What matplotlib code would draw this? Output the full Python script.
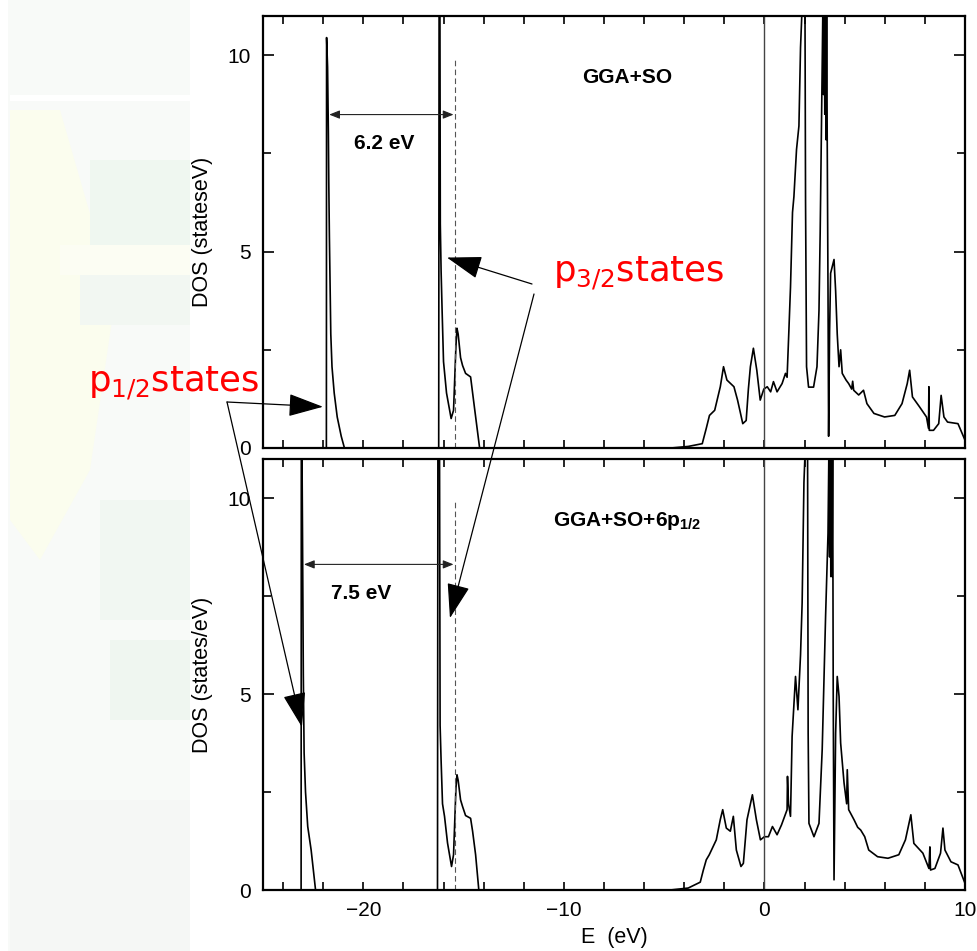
import numpy as np
import matplotlib
matplotlib.use("Agg")
import matplotlib.pyplot as plt
from matplotlib.ticker import MultipleLocator
from matplotlib.patches import Rectangle, Polygon

plt.rcParams['font.family'] = ['Liberation Sans', 'DejaVu Sans']
plt.rcParams['mathtext.fontset'] = 'custom'
plt.rcParams['mathtext.rm'] = 'DejaVu Sans'
plt.rcParams['mathtext.bf'] = 'Liberation Sans:bold'

# DOS, GGA+SO (energy in eV, states/eV)
e_top = [-25, -21.84, -21.83, -21.78, -21.74, -21.72, -21.69, -21.62, -21.56, -21.45, -21.3, -21.1, -20.94,
         -16.24, -16.22, -16.18, -16.16, -16.12, -16.07, -16.0, -15.85, -15.62, -15.5, -15.38, -15.33, -15.27,
         -15.15, -15.05, -14.9, -14.65, -14.45, -14.2,
         -4.66, -3.8, -3.1, -2.9, -2.74, -2.48, -2.2, -2.04, -1.87, -1.52, -1.34, -1.2, -1.08, -0.91, -0.8, -0.7,
         -0.55, -0.38, -0.21, -0.03, 0.14, 0.31, 0.45, 0.63, 0.88, 1.05, 1.13, 1.22, 1.3, 1.4, 1.47, 1.6, 1.72,
         1.8, 1.9, 2.02, 2.05, 2.1, 2.2, 2.45, 2.62, 2.72, 2.78, 2.87, 2.92, 2.95, 2.98, 3.01, 3.04, 3.07, 3.1,
         3.13, 3.17, 3.2, 3.25, 3.3, 3.47, 3.55, 3.63, 3.72, 3.8, 3.88, 4.07, 4.2, 4.35, 4.4, 4.45, 4.7, 4.94,
         5.11, 5.46, 5.99, 6.5, 6.86, 7.12, 7.24, 7.38, 7.73, 8.08, 8.18, 8.2, 8.22, 8.43, 8.69, 8.81, 8.95,
         9.13, 9.65, 10]
dos_top = [0, 0, 10.45, 9.7, 8.0, 6.75, 5.4, 2.9, 2.07, 1.4, 0.79, 0.3, 0,
           0, 11.5, 11.5, 5.7, 4.5, 3.5, 2.2, 1.4, 0.75, 0.96, 2.6, 3.05, 2.9,
           2.3, 2.1, 1.9, 1.81, 1.0, 0,
           0, 0.04, 0.11, 0.5, 0.83, 0.96, 1.56, 2.07, 1.73, 1.56, 1.22, 0.9, 0.62, 0.7, 1.5, 2.07,
           2.54, 1.98, 1.22, 1.5, 1.56, 1.43, 1.69, 1.43, 1.64, 1.9, 1.8, 3.0, 4.1, 6.0, 6.4, 7.6, 8.2,
           10.2, 11.5, 11.5, 6.3, 2.07, 1.55, 1.55, 2.07, 3.5, 5.5, 9.3, 11.5, 9.0, 11.5, 8.5, 11.5, 7.85, 11.5,
           7.9, 4.0, 0.3, 3.0, 4.45, 4.8, 4.0, 2.9, 2.07, 2.5, 1.9, 1.73, 1.64, 1.5, 1.7, 1.47, 1.35, 1.47,
           1.13, 0.88, 0.79, 0.83, 1.13, 1.64, 1.98, 1.3, 1.05, 0.79, 0.5, 1.56, 0.45, 0.45, 0.62, 1.34, 0.79,
           0.66, 0.62, 0.2]

# DOS, GGA+SO+6p1/2
e_bot = [-25, -23.1, -23.09, -23.06, -23.03, -22.99, -22.95, -22.88, -22.77, -22.6, -22.38,
         -16.3, -16.28, -16.2, -16.17, -16.12, -16.05, -15.95, -15.8, -15.6, -15.5, -15.38, -15.33, -15.27,
         -15.15, -15.05, -14.9, -14.65, -14.55, -14.4, -14.24,
         -4.7, -3.8, -3.2, -3.05, -2.9, -2.75, -2.4, -2.2, -2.08, -1.9, -1.7, -1.55, -1.4, -1.17, -1.05, -0.87,
         -0.6, -0.4, -0.2, 0.0, 0.2, 0.4, 0.63, 0.85, 1.13, 1.15, 1.2, 1.3, 1.38, 1.55, 1.67, 1.8, 1.88, 1.97,
         2.05, 2.15, 2.18, 2.22, 2.47, 2.72, 2.88, 3.05, 3.17, 3.22, 3.25, 3.28, 3.31, 3.34, 3.37, 3.4, 3.43,
         3.47, 3.55, 3.63, 3.72, 3.8, 3.97, 4.1, 4.13, 4.2, 4.47, 4.65, 4.8, 5.0, 5.2, 5.64, 6.16, 6.7, 7.03,
         7.3, 7.45, 7.9, 8.2, 8.25, 8.28, 8.5, 8.78, 8.9, 9.0, 9.3, 9.65, 10]
dos_bot = [0, 0, 11.5, 11.5, 9.1, 5.5, 3.5, 2.5, 1.62, 1.02, 0,
           0, 11.5, 11.5, 4.2, 3.3, 2.2, 1.88, 1.2, 0.6, 0.9, 2.6, 2.94, 2.8,
           2.3, 2.13, 1.9, 1.83, 1.5, 0.9, 0,
           0, 0.05, 0.2, 0.5, 0.77, 0.9, 1.28, 1.8, 2.05, 1.58, 1.5, 1.88, 1.02, 0.6, 0.68, 1.79,
           2.43, 1.79, 1.28, 1.36, 1.36, 1.62, 1.41, 1.66, 2.05, 2.9, 2.2, 1.88, 3.92, 5.45, 4.6, 6.0, 7.33, 10.4,
           11.5, 11.5, 4.0, 1.7, 1.36, 1.7, 3.58, 7.0, 9.1, 11.5, 8.5, 11.5, 8.0, 11.5, 8.0, 11.5, 5.0,
           0.26, 4.0, 5.45, 4.94, 3.75, 2.73, 2.2, 3.07, 2.05, 1.79, 1.6, 1.53, 1.36, 1.02, 0.85, 0.81, 0.9, 1.28,
           1.92, 1.19, 0.94, 0.55, 1.1, 0.51, 0.55, 0.94, 1.58, 1.02, 0.72, 0.64, 0.17]

p32_peak = -15.45
gaps = [6.2, 7.5]
gap_left = [-21.7, -22.96]
gap_y = [8.49, 8.31]
titles = ['GGA+SO', r'GGA+SO+6p$_{\mathbf{1/2}}$']
ylabels = ['DOS (stateseV)', 'DOS (states/eV)']

W, H = 978, 951
fig = plt.figure(figsize=(W / 100, H / 100), dpi=100)

# faded watermark strip at the left
bg = fig.add_axes([0, 0, 1, 1], zorder=-5)
bg.set_xlim(0, W)
bg.set_ylim(H, 0)
bg.axis('off')
bg.add_patch(Rectangle((8, 0), 182, H, color='#f8faf8', lw=0))
bg.add_patch(Polygon([(10, 110), (60, 110), (115, 300), (90, 470), (40, 560), (10, 520)], color='#fbfdee', lw=0))
bg.add_patch(Rectangle((90, 160), 100, 85, color='#eff7f0', lw=0))
bg.add_patch(Rectangle((60, 245), 130, 30, color='#fcfdf3', lw=0))
bg.add_patch(Rectangle((80, 275), 110, 50, color='#f2f7f2', lw=0))
bg.add_patch(Rectangle((10, 95), 180, 6, color='#ffffff', lw=0))
bg.add_patch(Rectangle((100, 500), 90, 120, color='#f1f7f2', lw=0))
bg.add_patch(Rectangle((110, 640), 80, 80, color='#eff6f0', lw=0))
bg.add_patch(Rectangle((10, 800), 180, 151, color='#f5f7f5', lw=0))

ax1 = fig.add_axes([263 / W, 1 - 448 / H, 702 / W, 432 / H])
ax2 = fig.add_axes([263 / W, 1 - 890 / H, 702 / W, 431 / H])

for i, (ax, e, d) in enumerate([(ax1, e_top, dos_top), (ax2, e_bot, dos_bot)]):
    ax.plot(e, d, color='black', lw=1.2)
    ax.axvline(0, color='#444444', lw=1.0)
    ax.vlines(p32_peak, 0, 9.95, colors='#555555', linestyles=(0, (5, 3)), lw=0.8)
    ax.annotate('', xy=(p32_peak - 0.05, gap_y[i]), xytext=(gap_left[i], gap_y[i]),
                arrowprops=dict(arrowstyle='<|-|>,head_length=0.45,head_width=0.18', lw=0.8,
                                color='#222222', mutation_scale=14, shrinkA=0, shrinkB=0))
    ax.text((gap_left[i] + p32_peak) / 2 - 0.4 - 0.5 * i, gap_y[i] - 0.73, f'{gaps[i]} eV',
            ha='center', va='center', fontsize=15, fontweight='bold')
    ax.text(-6.84, 9.43, titles[i], ha='center', va='center', fontsize=15, fontweight='bold')
    ax.set_xlim(-25, 10)
    ax.set_ylim(0, 11)
    ax.xaxis.set_major_locator(MultipleLocator(10))
    ax.xaxis.set_minor_locator(MultipleLocator(2))
    ax.yaxis.set_major_locator(MultipleLocator(5))
    ax.yaxis.set_minor_locator(MultipleLocator(2.5))
    ax.tick_params(which='both', direction='in', top=True, right=True, width=1.2, labelsize=15)
    ax.tick_params(which='major', axis='y', length=8, pad=9)
    ax.tick_params(which='minor', axis='y', length=6)
    ax.tick_params(which='both', axis='x', length=6, pad=8)
    for s in ax.spines.values():
        s.set_linewidth(1.6)
    ax.set_ylabel(ylabels[i], fontsize=15.5)
    ax.yaxis.set_label_coords(-0.071, 0.5)

ax1.tick_params(labelbottom=False)
ax2.set_xlabel('E  (eV)', fontsize=15.5)
ax2.xaxis.set_label_coords(0.5, -0.085)

# red labels and pointer arrows
red = dict(color='red', fontsize=25.5, family='DejaVu Sans', ha='left', va='baseline')
fig.text(553 / W, 1 - 282 / H, r'p$_{\mathrm{3/2}}$states', **red)
fig.text(88 / W, 1 - 392 / H, r'p$_{\mathrm{1/2}}$states', **red)

big = dict(arrowstyle='-|>,head_length=1.1,head_width=0.36', lw=0.9, color='black',
           mutation_scale=20, shrinkA=0, shrinkB=0)
ax1.annotate('', xy=(-15.83, 4.85), xytext=(532, H - 284), textcoords='figure pixels',
             arrowprops=big, annotation_clip=False)
ax2.annotate('', xy=(-15.68, 6.94), xytext=(534, H - 294), textcoords='figure pixels',
             arrowprops=big, annotation_clip=False)
ax1.annotate('', xy=(-22.01, 1.05), xytext=(227, H - 402), textcoords='figure pixels',
             arrowprops=big, annotation_clip=False)
ax2.annotate('', xy=(-23.06, 4.16), xytext=(227, H - 402), textcoords='figure pixels',
             arrowprops=big, annotation_clip=False)

fig.savefig('out.png', dpi=100)
